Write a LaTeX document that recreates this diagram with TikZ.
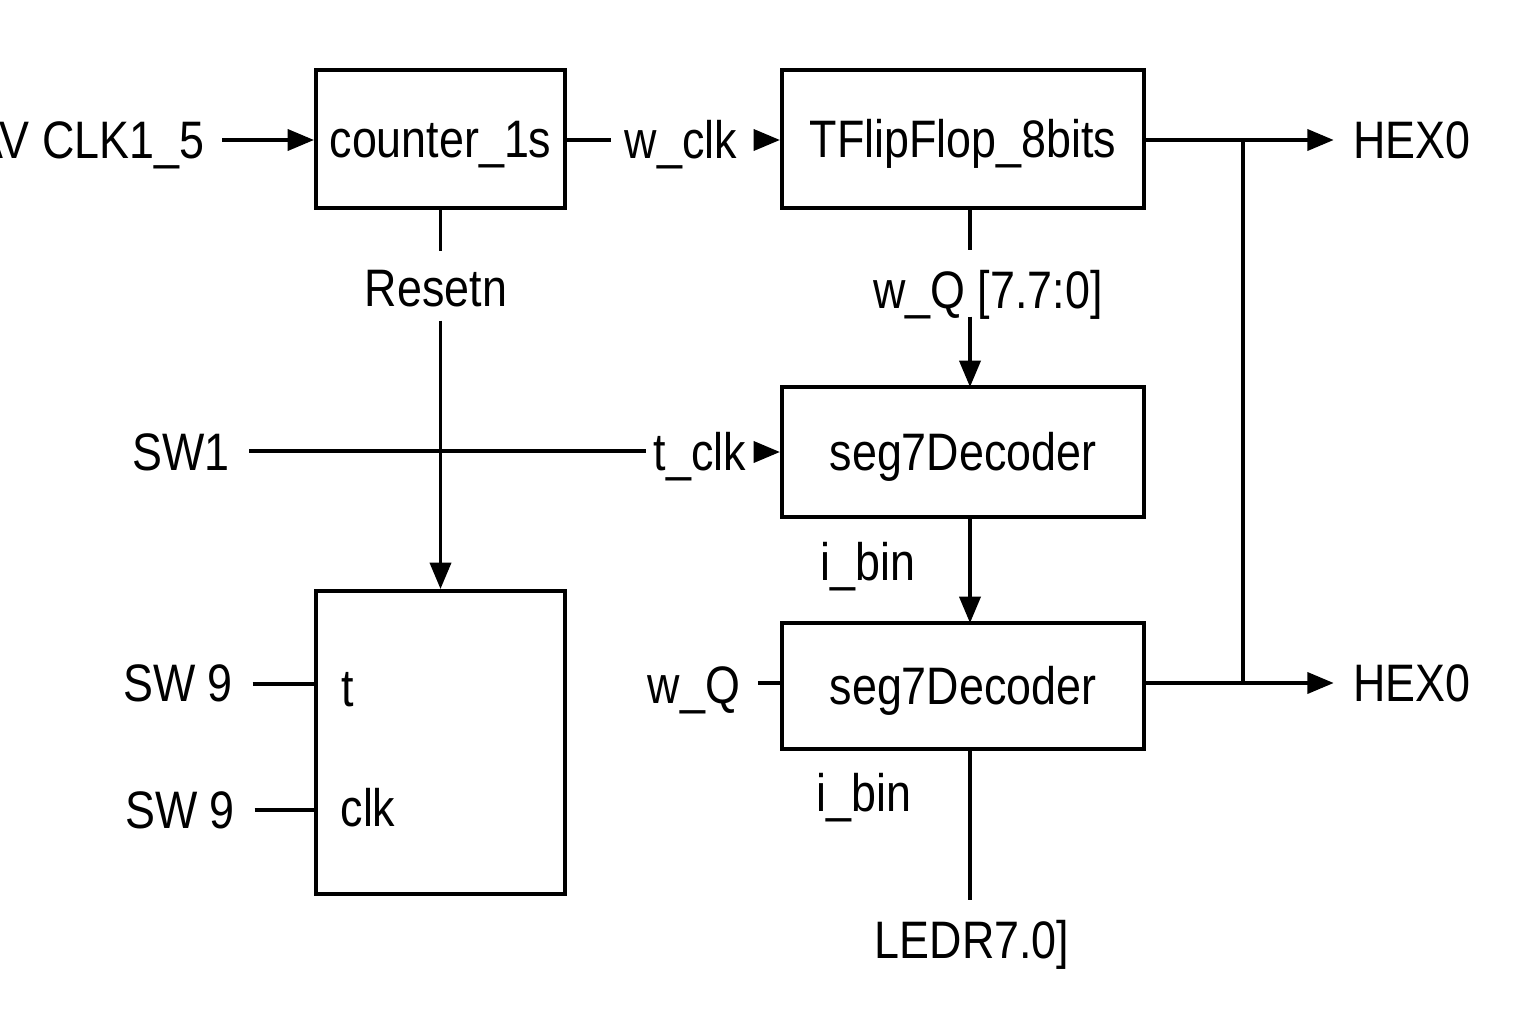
\documentclass[tikz,border=0pt]{standalone}
\usepackage{fontspec}
\setmainfont{Liberation Sans}[FakeStretch=0.85]
\usetikzlibrary{arrows.meta,calc}
\begin{document}
\begin{tikzpicture}[x=0.01cm,y=-0.01cm,
  box/.style={draw,line width=1.1pt,inner sep=0pt,text height=10.7pt,text depth=0pt,font=\fontsize{15}{18}\selectfont},
  lbl/.style={inner sep=2pt,text height=10.7pt,text depth=0pt,font=\fontsize{15}{18}\selectfont},
  wire/.style={line width=1pt},
  arr/.style={line width=1pt,-{Triangle[length=7.5pt,width=6pt]}}]
\useasboundingbox (0,0) rectangle (1536,1024);
% boxes
\node[box,minimum width=2.49cm,minimum height=1.38cm] (cnt) at (440.5,139) {counter\_1s};
\node[box,minimum width=3.62cm,minimum height=1.38cm] (tff) at (963,139) {TFlipFlop\_8bits};
\node[box,minimum width=3.62cm,minimum height=1.30cm] (segA) at (963,452) {seg7Decoder};
\node[box,minimum width=3.62cm,minimum height=1.26cm] (segB) at (963,686) {seg7Decoder};
\node[box,minimum width=2.49cm,minimum height=3.03cm] (lb) at (440.5,742.5) {};
\node[lbl] (tin) at (348,688) {t};
\node[lbl] (clkin) at (368,808) {clk};
% labels
\node[lbl,anchor=east] (clk15) at (212,140) {AV CLK1\_5};
\node[lbl] (wclk) at (681,140) {w\_clk};
\node[lbl] (hexA) at (1412,140) {HEX0};
\node[lbl] (hexB) at (1412,683) {HEX0};
\node[lbl] (rst) at (436,288) {Resetn};
\node[lbl] (wq) at (988,290) {w\_Q [7.7:0]};
\node[lbl] (sw1) at (181,452) {SW1};
\node[lbl] (tclk) at (700,452) {t\_clk};
\node[lbl] (ibinA) at (868,562) {i\_bin};
\node[lbl] (wq2) at (694,685) {w\_Q};
\node[lbl] (ibinB) at (864,793) {i\_bin};
\node[lbl] (sw9a) at (178,683) {SW 9};
\node[lbl] (sw9b) at (180,810) {SW 9};
\node[lbl] (ledr) at (972,940) {LEDR7.0]};
% junction coordinates
\coordinate (ja) at (1243,140);
\coordinate (jb) at (1243,683);
\coordinate (tffs) at (970,208);
\coordinate (segAn) at (970,387);
\coordinate (segAs) at (970,517);
\coordinate (segBn) at (970,623);
\coordinate (segBs) at (970,749);
% connectors
\draw[arr] ($(clk15.east)+(10,0)$) -- (clk15.east -| cnt.west);
\draw[wire] (cnt.east |- wclk) -- ($(wclk.west)+(-6,0)$);
\draw[arr] ($(wclk.east)+(12,0)$) -- (wclk.east -| tff.west);
\draw[arr] (tff.east |- hexA) -- ($(hexA.west)+(-12,0)$);
\draw[arr] (segB.east |- hexB) -- ($(hexB.west)+(-12,0)$);
\draw[wire] (ja) -- (jb);
\draw[wire] (tffs) -- ($(tffs |- wq.north)+(0,-13)$);
\draw[arr] (tffs |- wq.south) -- (segAn);
\draw[arr] (segAs) -- (segBn);
\draw[wire] (segBs) -- ($(segBs |- ledr.north)+(0,-13)$);
\draw[wire] (cnt.south) -- ($(cnt.south |- rst.north)+(0,-10)$);
\draw[arr] ($(cnt.south |- rst.south)+(0,6)$) -- (lb.north);
\draw[wire] ($(sw1.east)+(12,-1)$) -- ($(tclk.west)+(0,-1)$);
\draw[arr] ($(tclk.east)+(8,0)$) -- (tclk.east -| segA.west);
\draw[wire] ($(wq2.east)+(10,-2)$) -- ($(wq2.east -| segB.west)+(0,-2)$);
\draw[wire] ($(sw9a.east)+(12,1)$) -- ($(sw9a.east -| lb.west)+(0,1)$);
\draw[wire] ($(sw9b.east)+(12,0)$) -- (sw9b.east -| lb.west);
\end{tikzpicture}
\end{document}
